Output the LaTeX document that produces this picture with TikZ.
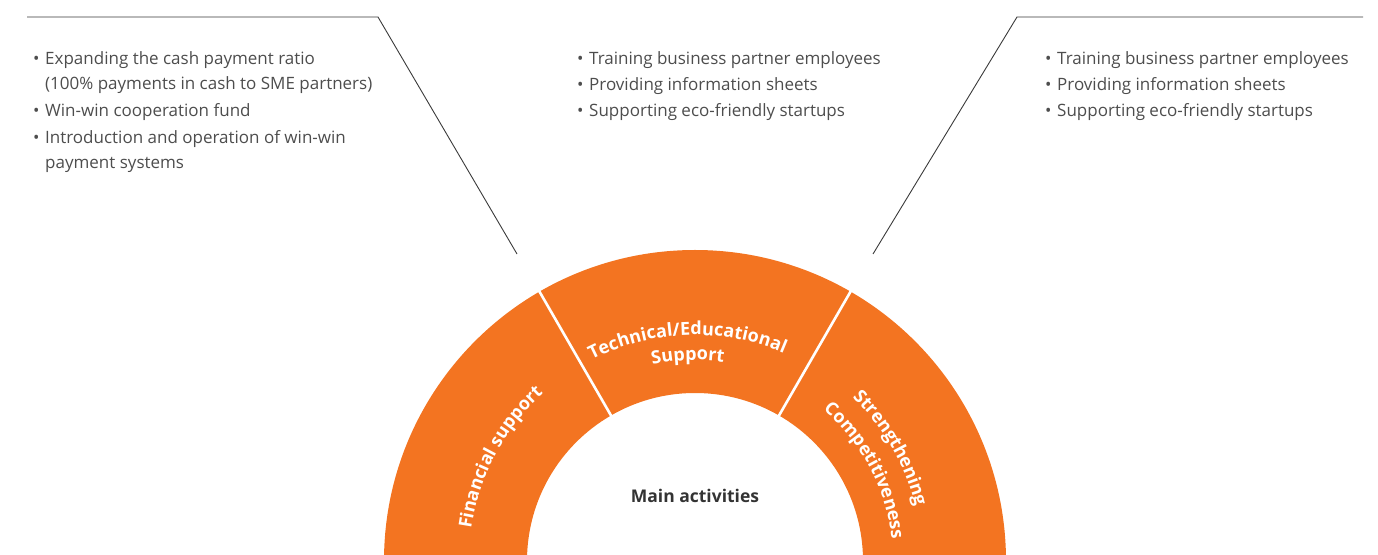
\documentclass[tikz,border=0pt]{standalone}
\usepackage{fontspec}
\setmainfont{Open Sans}
\usetikzlibrary{decorations.text,calc}
\definecolor{orng}{HTML}{F37421}
\definecolor{txtgray}{HTML}{4D4D4D}
\definecolor{linegray}{HTML}{3A3A3A}
\newcommand\mybul{\makebox[12pt][l]{\textbullet}}
\newcommand\myind{\hspace*{12pt}}
\newcommand\listfont{\fontsize{17}{25}\selectfont}
\newcommand\ringfont{\fontsize{18}{18}\selectfont\bfseries}
\begin{document}
\begin{tikzpicture}[x=1pt,y=1pt,
  listitem/.style={anchor=base west, inner sep=0pt, text=txtgray},
  leader/.style={draw=linegray, line width=0.9pt},
  divider/.style={draw=white, line width=2.6pt},
  ringtext/.style={decorate, decoration={text along path, text align=center, text color=white, text={|\ringfont|#1}}}]
\useasboundingbox (0,0) rectangle (1378,554);
\coordinate (C) at (695,-7);
% ring
\begin{scope}
\clip (0,0) rectangle (1378,554);
\fill[orng] ($(C)+(0:311)$) arc[start angle=0,end angle=180,radius=311]
  -- ($(C)+(180:168)$) arc[start angle=180,end angle=0,radius=168] -- cycle;
\draw[divider] ($(C)+(60:166)$) -- ($(C)+(60:313)$);
\draw[divider] ($(C)+(120:166)$) -- ($(C)+(120:313)$);
\end{scope}
% ring labels
\path[ringtext={Financial support}] ($(C)+(182:226)$) arc[start angle=182,end angle=122,radius=226];
\path[ringtext={Technical/Educational}] ($(C)+(132:226)$) arc[start angle=132,end angle=52,radius=226];
\path[ringtext={Support}] ($(C)+(132:201)$) arc[start angle=132,end angle=52,radius=201];
\path[ringtext={Strengthening}] ($(C)+(70:227)$) arc[start angle=70,end angle=-10,radius=227];
\path[ringtext={Competitiveness}] ($(C)+(68:198)$) arc[start angle=68,end angle=-12,radius=198];
\node[font=\fontsize{17.5}{17.5}\selectfont\bfseries, text=black!80, inner sep=0pt] (main) at (695,58) {Main activities};
% leader lines
\coordinate (la) at (27,537);
\coordinate (lb) at (378,537);
\coordinate (lc) at (517,300);
\coordinate (ra) at (873,300);
\coordinate (rb) at (1017,537);
\coordinate (rc) at (1363,537);
\draw[leader] (la) -- (lb) -- (lc);
\draw[leader] (ra) -- (rb) -- (rc);
% left list
\node[listitem] (f1) at (33,489) {\parbox[t]{400pt}{\listfont\raggedright \mybul Expanding the cash payment ratio\\\myind(100\% payments in cash to SME partners)}};
\node[listitem] (f2) at (33,437) {\listfont\mybul Win-win cooperation fund};
\node[listitem] (f3) at (33,410) {\parbox[t]{400pt}{\listfont\raggedright \mybul Introduction and operation of win-win\\\myind payment systems}};
% middle list
\node[listitem] (t1) at (577,489) {\listfont\mybul Training business partner employees};
\node[listitem] (t2) at (577,463) {\listfont\mybul Providing information sheets};
\node[listitem] (t3) at (577,437) {\listfont\mybul Supporting eco-friendly startups};
% right list
\node[listitem] (s1) at (1045,489) {\listfont\mybul Training business partner employees};
\node[listitem] (s2) at (1045,463) {\listfont\mybul Providing information sheets};
\node[listitem] (s3) at (1045,437) {\listfont\mybul Supporting eco-friendly startups};
\end{tikzpicture}
\end{document}
